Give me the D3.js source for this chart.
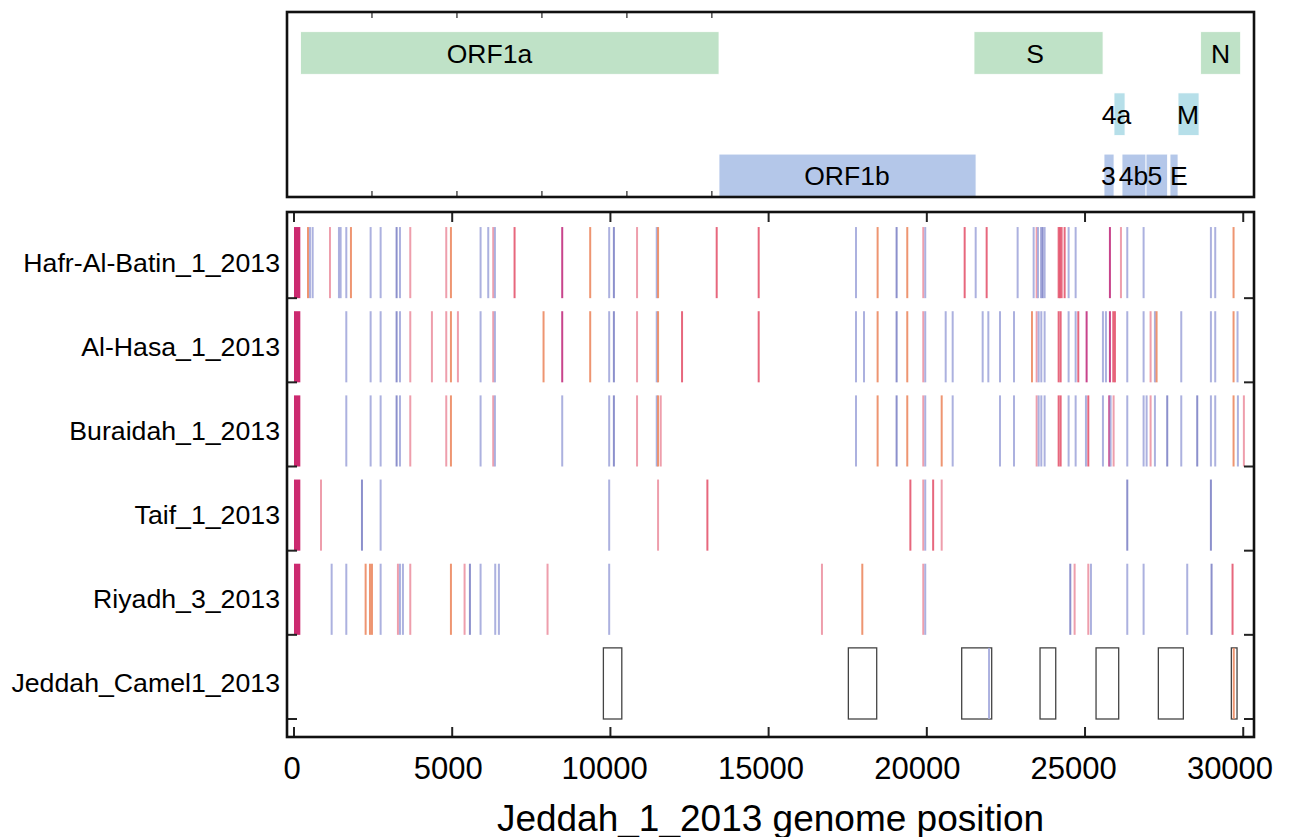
<!DOCTYPE html>
<html>
<head>
<meta charset="utf-8">
<script src="https://cdnjs.cloudflare.com/ajax/libs/d3/7.8.5/d3.min.js"></script>
<style>
body { margin: 0; background: #fff; }
text { font-family: "Liberation Sans", Arial, sans-serif; fill: #000; }
</style>
</head>
<body>
<div id="chart"></div>
<script>
var width = 1291,
    height = 837;

// genome annotation (start, end in Jeddah_1_2013 coordinates, row in the top panel)
var geneNames = ['ORF1a', 'S', 'N', '4a', 'M', 'ORF1b', '3', '4b', '5', 'E'];
var geneStart = [209, 21491, 28654, 25916, 27939, 13432, 25600, 26169, 26928, 27686];
var geneEnd   = [13432, 25569, 29918, 26264, 28603, 21555, 25916, 26928, 27607, 27939];
var geneRow   = [0, 0, 0, 1, 1, 2, 2, 2, 2, 2];
var geneLabelAt = [6178, 23418, 29280, 25993, 28253, 17476, 25741, 26531, 27210, 27968];
var geneColor = ['#bfe2c7', '#bfe2c7', '#bfe2c7', '#b6dfe9', '#b6dfe9',
                 '#b4c7e9', '#b4c7e9', '#b4c7e9', '#b4c7e9', '#b4c7e9'];

var strains = ['Hafr-Al-Batin_1_2013', 'Al-Hasa_1_2013', 'Buraidah_1_2013',
               'Taif_1_2013', 'Riyadh_3_2013', 'Jeddah_Camel1_2013'];

// variable sites per strain: [position, kind]
var hafr = [[442,'o'],[505,'b'],[590,'b'],[1137,'p'],[1421,'b'],[1474,'b'],[1653,'b'],[1800,'o'],
    [2422,'b'],[2738,'b'],[3243,'d'],[3349,'b'],[3675,'p'],[4812,'p'],[4960,'o'],[5897,'b'],
    [6139,'b'],[6297,'p'],[6350,'b'],[6971,'r'],[8477,'m'],[9361,'o'],[9961,'b'],[10110,'d'],
    [10842,'p'],[11464,'b'],[11506,'o'],[13359,'r'],[14686,'r'],[17761,'b'],[18445,'o'],
    [19045,'d'],[19382,'o'],[19888,'p'],[19950,'b'],[21196,'r'],[21544,'b'],[21891,'r'],
    [22870,'b'],[23376,'b'],[23471,'p'],[23513,'b'],[23608,'b'],[23660,'d'],[23723,'b'],
    [24166,'r'],[24208,'r'],[24260,'r'],[24355,'r'],[24481,'b'],[24703,'b'],[25787,'m'],
    [26135,'p'],[26335,'b'],[26851,'b'],[28978,'b'],[29115,'b'],[29694,'o']];
var alHasa = [[1653,'b'],[2422,'b'],[2738,'b'],[3243,'d'],[3349,'b'],[3675,'p'],[4359,'p'],
    [4812,'p'],[4960,'o'],[5181,'p'],[5897,'b'],[6297,'p'],[6350,'b'],[7887,'o'],[8477,'m'],
    [9361,'o'],[9961,'b'],[10110,'d'],[10842,'p'],[11464,'b'],[11506,'o'],[12264,'r'],
    [14686,'r'],[17761,'b'],[18014,'b'],[18445,'o'],[19045,'d'],[19382,'o'],[19888,'p'],
    [19950,'b'],[20596,'b'],[20817,'b'],[21765,'b'],[21944,'b'],[22312,'b'],[22755,'b'],
    [23323,'o'],[23471,'p'],[23534,'b'],[23618,'b'],[23723,'b'],[24166,'r'],[24229,'r'],
    [24481,'b'],[24703,'b'],[24787,'r'],[25050,'m'],[25566,'b'],[25661,'b'],[25787,'m'],
    [25892,'r'],[25945,'r'],[26335,'b'],[26851,'b'],[27072,'p'],[27209,'b'],[27261,'o'],
    [28041,'b'],[28978,'b'],[29115,'b'],[29694,'o'],[29820,'b']];
var buraidah = [[1653,'b'],[2422,'b'],[2738,'b'],[3243,'d'],[3349,'b'],[3675,'p'],[4812,'p'],
    [4960,'o'],[5897,'b'],[6297,'p'],[6350,'b'],[8477,'b'],[9961,'b'],[10110,'d'],[10842,'p'],
    [11464,'b'],[11506,'o'],[11590,'p'],[17761,'b'],[18445,'o'],[19045,'d'],[19382,'o'],
    [19888,'p'],[19950,'b'],[20470,'o'],[20817,'b'],[22312,'b'],[22755,'b'],[23471,'p'],
    [23534,'b'],[23618,'b'],[23723,'b'],[24166,'r'],[24229,'r'],[24481,'b'],[24703,'b'],
    [25029,'b'],[25103,'r'],[25566,'b'],[25766,'m'],[25808,'b'],[25903,'p'],[26335,'b'],
    [26851,'b'],[26946,'b'],[27072,'p'],[27209,'b'],[27598,'d'],[28041,'b'],[28546,'d'],
    [28978,'b'],[29115,'b'],[29694,'o'],[29831,'b'],[30020,'p']];
var taif = [[853,'p'],[2148,'d'],[2738,'b'],[9961,'b'],[11506,'p'],[13065,'r'],[19480,'r'],
    [19888,'p'],[19950,'b'],[20200,'r'],[20470,'p'],[26335,'d'],[28978,'d']];
var riyadh = [[1190,'b'],[1653,'b'],[2264,'o'],[2401,'o'],[2464,'o'],[2738,'b'],[3285,'p'],
    [3349,'b'],[3443,'b'],[3675,'p'],[4960,'o'],[5391,'p'],[5560,'d'],[5897,'b'],[6360,'b'],
    [6476,'b'],[8013,'p'],[9961,'b'],[16686,'p'],[17961,'o'],[19888,'p'],[19950,'b'],
    [24534,'d'],[24671,'p'],[25103,'p'],[25187,'b'],[26335,'b'],[26851,'b'],[28230,'b'],
    [28999,'d'],[29662,'r']];
var camel = [[21966,'b'],[29700,'o']];
var sites = [hafr, alHasa, buraidah, taif, riyadh, camel];

// 5' end block present in the five human strains
var fivePrime = [0, 200];

// regions not covered in the camel sequence
var camelGaps = [[9778,10360],[17520,18416],[21102,22050],[23578,24074],
                 [25348,26064],[27317,28107],[29624,29804]];

var xTicks = [0, 5000, 10000, 15000, 20000, 25000, 30000];

var kindColor = {b: '#a3a8dc', d: '#7f84c6', p: '#ec93a3', r: '#e4566f',
                 o: '#ec8962', m: '#c2307f'};

var panel = {left: 287, right: 1254},
    genePanel = {top: 12, bottom: 197},
    sitePanel = {top: 212, bottom: 737};

var x = d3.scaleLinear().domain([-221, 30340]).range([panel.left, panel.right]);
// tick labels in the original sit a little left of their ticks, more so to the right
var xLabel = d3.scaleLinear().domain([0, 30000]).range([292, 1230]);
var yRow = d3.scaleLinear().domain([-1, 5]).range([214, 719]);
var yGene = d3.scaleLinear().domain([0, 1]).range([31.7, 92.9]);
var xTop = d3.scaleLinear().domain([0, 11.38]).range([panel.left, panel.right]);

var svg = d3.select('#chart').append('svg')
    .attr('width', width)
    .attr('height', height);

svg.append('rect').attr('width', width).attr('height', height).attr('fill', '#fff');

// ---- gene panel
var genes = geneNames.map(function(n, i) {
    return {name: n, start: geneStart[i], end: geneEnd[i], row: geneRow[i],
            at: geneLabelAt[i], color: geneColor[i]};
});

var gp = svg.append('g');
gp.selectAll('rect.gene').data(genes).enter()
  .append('rect')
    .attr('class', 'gene')
    .attr('x', function(d) { return x(d.start); })
    .attr('width', function(d) { return x(d.end) - x(d.start); })
    .attr('y', function(d) { return yGene(d.row); })
    .attr('height', function(d) { return Math.min(42.6, genePanel.bottom - yGene(d.row)); })
    .attr('fill', function(d) { return d.color; })
    .attr('stroke', '#fff')
    .attr('stroke-width', 0.8);

gp.selectAll('text').data(genes).enter()
  .append('text')
    .attr('x', function(d) { return x(d.at); })
    .attr('y', function(d) { return yGene(d.row) + 22; })
    .attr('dominant-baseline', 'central')
    .attr('text-anchor', 'middle')
    .style('font-size', '26.5px')
    .text(function(d) { return d.name; });

var topTicks = [1, 2, 3, 4, 5];
gp.selectAll('line.tt').data(topTicks).enter()
  .append('line')
    .attr('x1', function(d) { return xTop(d); }).attr('x2', function(d) { return xTop(d); })
    .attr('y1', genePanel.top).attr('y2', genePanel.top + 6)
    .attr('stroke', '#222').attr('stroke-width', 1.2);
gp.selectAll('line.tb').data(topTicks).enter()
  .append('line')
    .attr('x1', function(d) { return xTop(d); }).attr('x2', function(d) { return xTop(d); })
    .attr('y1', genePanel.bottom).attr('y2', genePanel.bottom - 6)
    .attr('stroke', '#222').attr('stroke-width', 1.2);

gp.append('rect')
    .attr('x', panel.left).attr('y', genePanel.top)
    .attr('width', panel.right - panel.left)
    .attr('height', genePanel.bottom - genePanel.top)
    .attr('fill', 'none').attr('stroke', '#111').attr('stroke-width', 2.6);

// ---- variable sites panel
var sp = svg.append('g');
var lineH = 0.845;

strains.forEach(function(name, i) {
    var row = sp.append('g');
    if (i < 5) {
        row.append('rect')
            .attr('x', x(fivePrime[0]))
            .attr('width', x(fivePrime[1]) - x(fivePrime[0]))
            .attr('y', yRow(i - lineH))
            .attr('height', yRow(i) - yRow(i - lineH))
            .attr('fill', '#cc2a70');
    } else {
        row.selectAll('rect.gap').data(camelGaps).enter()
          .append('rect')
            .attr('class', 'gap')
            .attr('x', function(d) { return x(d[0]); })
            .attr('width', function(d) { return x(d[1]) - x(d[0]); })
            .attr('y', yRow(i - lineH))
            .attr('height', yRow(i) - yRow(i - lineH))
            .attr('fill', 'none')
            .attr('stroke', '#444')
            .attr('stroke-width', 1.3);
    }
    row.selectAll('line').data(sites[i]).enter()
      .append('line')
        .attr('x1', function(d) { return x(d[0]); })
        .attr('x2', function(d) { return x(d[0]); })
        .attr('y1', yRow(i - lineH))
        .attr('y2', yRow(i))
        .attr('stroke', function(d) { return kindColor[d[1]]; })
        .attr('stroke-width', 2)
        .attr('stroke-opacity', 0.9);

    sp.append('text')
        .attr('x', 280)
        .attr('y', yRow(i - lineH / 2))
        .attr('text-anchor', 'end')
        .attr('dominant-baseline', 'central')
        .style('font-size', '26.7px')
        .text(name);
});

var rowTicks = d3.range(0, strains.length);
sp.selectAll('line.yl').data(rowTicks).enter()
  .append('line')
    .attr('x1', panel.left).attr('x2', panel.left + 10)
    .attr('y1', function(d) { return yRow(d); }).attr('y2', function(d) { return yRow(d); })
    .attr('stroke', '#222').attr('stroke-width', 2);
sp.selectAll('line.yr').data(rowTicks).enter()
  .append('line')
    .attr('x1', panel.right).attr('x2', panel.right - 10)
    .attr('y1', function(d) { return yRow(d); }).attr('y2', function(d) { return yRow(d); })
    .attr('stroke', '#222').attr('stroke-width', 2);

sp.selectAll('line.xt').data(xTicks).enter()
  .append('line')
    .attr('x1', function(d) { return x(d); }).attr('x2', function(d) { return x(d); })
    .attr('y1', sitePanel.top).attr('y2', sitePanel.top + 10)
    .attr('stroke', '#222').attr('stroke-width', 2);
sp.selectAll('line.xb').data(xTicks).enter()
  .append('line')
    .attr('x1', function(d) { return x(d); }).attr('x2', function(d) { return x(d); })
    .attr('y1', sitePanel.bottom).attr('y2', sitePanel.bottom - 10)
    .attr('stroke', '#222').attr('stroke-width', 2);

sp.append('rect')
    .attr('x', panel.left).attr('y', sitePanel.top)
    .attr('width', panel.right - panel.left)
    .attr('height', sitePanel.bottom - sitePanel.top)
    .attr('fill', 'none').attr('stroke', '#111').attr('stroke-width', 2.6);

sp.selectAll('text.xl').data(xTicks).enter()
  .append('text')
    .attr('class', 'xl')
    .attr('x', function(d) { return xLabel(d); })
    .attr('y', 768)
    .attr('text-anchor', 'middle')
    .attr('dominant-baseline', 'central')
    .style('font-size', '31px')
    .text(function(d) { return d; });

svg.append('text')
    .attr('x', (panel.left + panel.right) / 2)
    .attr('y', 818)
    .attr('text-anchor', 'middle')
    .attr('dominant-baseline', 'central')
    .style('font-size', '37px')
    .text('Jeddah_1_2013 genome position');
</script>
</body>
</html>
